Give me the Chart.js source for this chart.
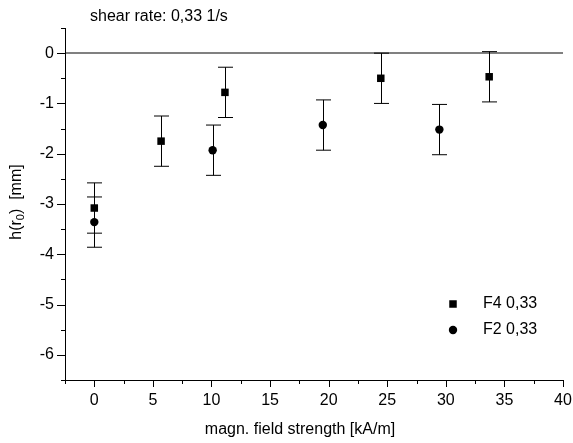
<!DOCTYPE html>
<html>
<head>
<meta charset="utf-8">
<script src="https://cdn.jsdelivr.net/npm/chart.js@4/dist/chart.umd.min.js"></script>
<style>
  body { margin: 0; background: #fff; }
  canvas { display: block; }
</style>
</head>
<body>
<canvas id="chart" width="573" height="443"></canvas>
<script>
// data
const f4X = [0, 5.7, 11.15, 24.45, 33.7];
const f4Y = [-3.08, -1.75, -0.78, -0.50, -0.47];
const f4Err = [0.5, 0.5, 0.5, 0.5, 0.5];

const f2X = [0, 10.1, 19.5, 29.45];
const f2Y = [-3.36, -1.93, -1.43, -1.52];
const f2Err = [0.5, 0.5, 0.5, 0.5];

const seriesLabels = ['F4 0,33', 'F2 0,33'];
const chartTitle = 'shear rate: 0,33 1/s';
const xTitle = 'magn. field strength [kA/m]';
// y title pieces: normal, subscript, normal
const yTitleParts = ['h(r', '0', ')  [mm]'];

const FONT = '"Liberation Sans", Arial, sans-serif';

function toPoints(xs, ys) {
    return xs.map((x, i) => ({ x: x, y: ys[i] }));
}

// error bars drawn through the scales
const errorBars = {
    id: 'errorBars',
    beforeDatasetsDraw(chart) {
        const ctx = chart.ctx;
        const xs = chart.scales.x;
        const ys = chart.scales.y;
        const errs = [f4Err, f2Err];
        ctx.save();
        ctx.strokeStyle = '#000';
        ctx.lineWidth = 1;
        chart.data.datasets.forEach((ds, d) => {
            ds.data.forEach((p, i) => {
                const px = Math.round(xs.getPixelForValue(p.x)) + 0.5;
                const top = ys.getPixelForValue(p.y + errs[d][i]);
                const bot = ys.getPixelForValue(p.y - errs[d][i]);
                ctx.beginPath();
                ctx.moveTo(px, top);
                ctx.lineTo(px, bot);
                ctx.moveTo(px - 7.5, top);
                ctx.lineTo(px + 7.5, top);
                ctx.moveTo(px - 7.5, bot);
                ctx.lineTo(px + 7.5, bot);
                ctx.stroke();
            });
        });
        ctx.restore();
    }
};

// outward tick marks (long majors, short minors), titles and legend
const decorations = {
    id: 'decorations',
    afterDraw(chart) {
        const ctx = chart.ctx;
        const area = chart.chartArea;
        const xs = chart.scales.x;
        const ys = chart.scales.y;
        ctx.save();
        ctx.strokeStyle = '#000';
        ctx.lineWidth = 1;
        ctx.beginPath();
        ys.ticks.forEach(t => {
            const py = Math.round(ys.getPixelForValue(t.value)) + 0.5;
            const len = Number.isInteger(t.value) ? 8 : 4;
            ctx.moveTo(area.left, py);
            ctx.lineTo(area.left - len, py);
        });
        xs.ticks.forEach(t => {
            const px = Math.round(xs.getPixelForValue(t.value)) + 0.5;
            const len = t.value % 5 === 0 ? 7 : 4;
            ctx.moveTo(px, area.bottom);
            ctx.lineTo(px, area.bottom + len);
        });
        ctx.stroke();

        ctx.fillStyle = '#000';
        ctx.font = '16px ' + FONT;
        ctx.textBaseline = 'middle';

        // chart title
        ctx.textAlign = 'left';
        ctx.fillText(chartTitle, 90, 17);

        // x title
        ctx.textAlign = 'center';
        ctx.fillText(xTitle, 300, 430);

        // y title with subscript
        ctx.save();
        ctx.translate(17, 202);
        ctx.rotate(-Math.PI / 2);
        ctx.textAlign = 'left';
        const big = '16px ' + FONT;
        const small = '11px ' + FONT;
        ctx.font = big;
        const w0 = ctx.measureText(yTitleParts[0]).width;
        const w2 = ctx.measureText(yTitleParts[2]).width;
        ctx.font = small;
        const w1 = ctx.measureText(yTitleParts[1]).width;
        let tx = -(w0 + w1 + w2) / 2;
        ctx.font = big;
        ctx.fillText(yTitleParts[0], tx, 0);
        tx += w0;
        ctx.font = small;
        ctx.fillText(yTitleParts[1], tx, 4);
        tx += w1;
        ctx.font = big;
        ctx.fillText(yTitleParts[2], tx, 0);
        ctx.restore();

        // legend
        const lx = 453;
        const rows = [304, 330];
        ctx.fillRect(lx - 3.75, rows[0] - 3.75, 7.5, 7.5);
        ctx.beginPath();
        ctx.arc(lx, rows[1], 4.2, 0, Math.PI * 2);
        ctx.fill();
        ctx.textAlign = 'left';
        ctx.fillText(seriesLabels[0], 483, rows[0]);
        ctx.fillText(seriesLabels[1], 483, rows[1]);
        ctx.restore();
    }
};

const chart = new Chart(document.getElementById('chart'), {
    type: 'scatter',
    data: {
        datasets: [
            {
                label: seriesLabels[0],
                data: toPoints(f4X, f4Y),
                pointStyle: 'rect',
                pointRadius: 5.3,
                backgroundColor: '#000',
                borderColor: '#000',
                borderWidth: 0
            },
            {
                label: seriesLabels[1],
                data: toPoints(f2X, f2Y),
                pointStyle: 'circle',
                pointRadius: 4.2,
                backgroundColor: '#000',
                borderColor: '#000',
                borderWidth: 0
            }
        ]
    },
    options: {
        responsive: false,
        animation: false,
        layout: { padding: { top: 28, right: 10, left: 0, bottom: 0 } },
        plugins: {
            legend: { display: false },
            tooltip: { enabled: false }
        },
        scales: {
            x: {
                type: 'linear',
                min: -2.5,
                max: 40,
                afterFit: s => {
                    s.height = 63;
                    s.paddingLeft = 0;
                    s.paddingRight = 0;
                },
                ticks: {
                    stepSize: 2.5,
                    autoSkip: false,
                    maxRotation: 0,
                    padding: 11,
                    color: '#000',
                    font: { family: FONT, size: 16 },
                    callback: v => (v % 5 === 0 ? String(v) : '')
                },
                grid: { display: false, drawTicks: false },
                border: { display: true, color: '#000', width: 1 }
            },
            y: {
                type: 'linear',
                min: -6.5,
                max: 0.5,
                afterFit: s => {
                    s.width = 65;
                    s.paddingTop = 0;
                    s.paddingBottom = 0;
                },
                ticks: {
                    stepSize: 0.5,
                    autoSkip: false,
                    padding: 11,
                    color: '#000',
                    font: { family: FONT, size: 16 },
                    callback: v => (Number.isInteger(v) ? String(v) : '')
                },
                grid: {
                    drawTicks: false,
                    color: ctx => (ctx.tick && ctx.tick.value === 0 ? '#808080' : 'rgba(0,0,0,0)'),
                    lineWidth: 2
                },
                border: { display: true, color: '#000', width: 1 }
            }
        }
    },
    plugins: [errorBars, decorations]
});
</script>
</body>
</html>
